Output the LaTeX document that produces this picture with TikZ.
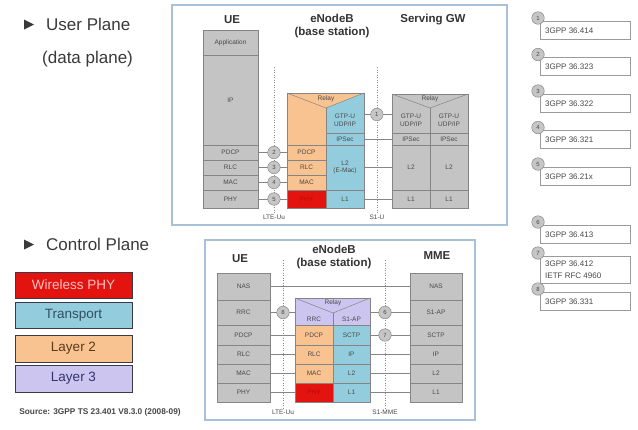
\documentclass[tikz,border=0pt]{standalone}
\usepackage{fontspec}
\setmainfont{Liberation Sans}
\definecolor{cred}{HTML}{E3140F}
\definecolor{cblue}{HTML}{93CDDD}
\definecolor{corange}{HTML}{F9C291}
\definecolor{clav}{HTML}{CBC5F0}
\definecolor{cgray}{HTML}{C4C4C4}
\definecolor{cline}{HTML}{858585}
\definecolor{ctext}{HTML}{484848}
\definecolor{chead}{HTML}{333333}
\definecolor{cframe}{HTML}{A8C0D8}
\definecolor{cnum}{HTML}{C6C6C6}
\definecolor{cnumline}{HTML}{8A8A8A}
\definecolor{cdash}{HTML}{8A8A8A}
\definecolor{clegline}{HTML}{3A3A48}
\definecolor{crefline}{HTML}{9A9A9A}
\definecolor{cphytext}{HTML}{B80808}
\definecolor{ctitle}{HTML}{3A3A3A}
\definecolor{ctrtext}{HTML}{2F4F62}
\definecolor{cl2text}{HTML}{5A3A1C}
\definecolor{cl3text}{HTML}{34346A}
\definecolor{cphyleg}{HTML}{F7C4C4}
\newcommand\dgCell{\fontsize{6.5}{7.5}\selectfont}
\newcommand\dgNum{\fontsize{6}{6}\selectfont}
\newcommand\dgSmall{\fontsize{6.5}{7}\selectfont}
\newcommand\dgHead{\fontsize{11.5}{13}\bfseries\selectfont}
\newcommand\dgLeg{\fontsize{13.5}{15}\selectfont}
\newcommand\dgRef{\fontsize{8}{11.5}\selectfont}
\newcommand\dgTitle{\fontsize{17}{19}\selectfont}
\newcommand\dgSrc{\fontsize{8.3}{9}\bfseries\selectfont}
\newcommand\cellbox[7]{\node[#2,minimum width={(#5-#3)*1pt},minimum height={(#6-#4)*1pt}] (#1) at ({(#3+#5)/2},{(#4+#6)/2}) {#7};}
\tikzset{
  cell/.style={draw=cline, line width=0.5pt, inner sep=0pt, outer sep=0pt, font=\dgCell, text=ctext, align=center},
  gcell/.style={cell, fill=cgray},
  ocell/.style={cell, fill=corange},
  bcell/.style={cell, fill=cblue},
  rcell/.style={cell, fill=cred, text=cphytext},
  lcell/.style={cell, fill=clav},
  tcell/.style={cell, draw=none},
  num/.style={circle, draw=cnumline, fill=cnum, line width=0.5pt, minimum size=12.5pt, inner sep=0pt, font=\dgNum, text=ctext},
  link/.style={draw=cline, line width=0.5pt},
  iface/.style={draw=cdash, line width=0.6pt, dash pattern=on 1pt off 1.5pt},
  ifacelabel/.style={font=\dgSmall, text=ctext, inner sep=1pt},
  head/.style={font=\dgHead, text=chead, align=center, inner sep=0pt},
  frame/.style={draw=cframe, line width=1.2pt, inner sep=0pt},
  legbox/.style={draw=clegline, line width=1pt, inner sep=0pt, font=\dgLeg},
  refbox/.style={draw=crefline, line width=0.6pt, fill=white, inner sep=0pt},
  reftext/.style={font=\dgRef, text=ctext, align=left, inner sep=0pt, anchor=west},
  title/.style={font=\dgTitle, text=ctitle, inner sep=0pt, anchor=west}
}
\begin{document}
\begin{tikzpicture}[x=1pt,y=-1pt]
\useasboundingbox[fill=white] (0,0) rectangle (638,429);

% ---------------- titles ----------------
\fill[ctitle] (24,19.5) -- (34,24.5) -- (24,29.5) -- cycle;
\node[title] (tup) at (46,24) {User Plane};
\node[title] (tdp) at (42,59) {(data plane)};
\fill[ctitle] (24,239.5) -- (34,244.5) -- (24,249.5) -- cycle;
\node[title] (tcp) at (46,244) {Control Plane};

% ---------------- frames ----------------
\cellbox{upframe}{frame}{172}{5}{507}{225}{}
\cellbox{cpframe}{frame}{205}{240}{475}{420}{}

% ---------------- user plane ----------------
\node[head] (hUE) at (232,20) {UE};
\node[head] (hENB) at (332,26) {eNodeB\\(base station)};
\node[head] (hSGW) at (433,20) {Serving GW};

\coordinate (uuTop) at (274,67);
\coordinate (s1Top) at (377,67);
\node[ifacelabel] (lUu) at (274,217) {LTE-Uu};
\node[ifacelabel] (lS1U) at (377,217) {S1-U};
\draw[iface] (uuTop) -- (lUu.north);
\draw[iface] (s1Top) -- (lS1U.north);

% UE
\cellbox{uApp}{gcell}{203}{30}{258}{55}{Application}
\cellbox{uIP}{gcell}{203}{55}{258}{145}{IP}
\cellbox{uPDCP}{gcell}{203}{145}{258}{160}{PDCP}
\cellbox{uRLC}{gcell}{203}{160}{258}{175}{RLC}
\cellbox{uMAC}{gcell}{203}{175}{258}{190}{MAC}
\cellbox{uPHY}{gcell}{203}{190}{258}{208}{PHY}

% eNodeB
\cellbox{eBox}{ocell}{287}{93}{364}{208}{}
\fill[cblue] (326,108) -- (eBox.north east) -- (eBox.south east) -- (326,208) -- cycle;
\cellbox{eGTP}{tcell}{326}{108}{364}{133}{GTP-U\\UDP/IP}
\cellbox{eIPS}{bcell}{326}{133}{364}{145}{IPSec}
\cellbox{eL2}{bcell}{326}{145}{364}{190}{L2\\(E-Mac)}
\cellbox{eL1}{bcell}{326}{190}{364}{208}{L1}
\cellbox{ePDCP}{ocell}{287}{145}{326}{160}{PDCP}
\cellbox{eRLC}{ocell}{287}{160}{326}{175}{RLC}
\cellbox{eMAC}{ocell}{287}{175}{326}{190}{MAC}
\cellbox{ePHY}{rcell}{287}{190}{326}{208}{PHY}
\node[tcell] (eRelay) at (326,99) {Relay};
\draw[link] (eBox.north west) -- (326,108) -- (eBox.north east);
\draw[link] (326,108) -- (326,145);
\draw[link] (eBox.north west) rectangle (eBox.south east);

% Serving GW
\cellbox{sBox}{gcell}{392}{94}{468}{208}{}
\cellbox{sG1}{tcell}{392}{108}{430}{133}{GTP-U\\UDP/IP}
\cellbox{sG2}{tcell}{430}{108}{468}{133}{GTP-U\\UDP/IP}
\cellbox{sI1}{gcell}{392}{133}{430}{145}{IPSec}
\cellbox{sI2}{gcell}{430}{133}{468}{145}{IPSec}
\cellbox{sL2a}{gcell}{392}{145}{430}{190}{L2}
\cellbox{sL2b}{gcell}{430}{145}{468}{190}{L2}
\cellbox{sL1a}{gcell}{392}{190}{430}{208}{L1}
\cellbox{sL1b}{gcell}{430}{190}{468}{208}{L1}
\node[tcell] (sRelay) at (430,99) {Relay};
\draw[link] (sBox.north west) -- (430,108) -- (sBox.north east);
\draw[link] (430,108) -- (430,133);

% user plane connectors
\draw[link] (uPDCP.east) -- node[num,pos=.55]{2} (uPDCP.east -| ePDCP.west);
\draw[link] (uRLC.east) -- node[num,pos=.55]{3} (uRLC.east -| eRLC.west);
\draw[link] (uMAC.east) -- node[num,pos=.55]{4} (uMAC.east -| eMAC.west);
\draw[link] (uPHY.east) -- node[num,pos=.55]{5} (uPHY.east -| ePHY.west);
\draw[link] ([yshift=6pt]eGTP.east) -- node[num,pos=.46]{1} ([yshift=6pt]sG1.west);
\draw[link] (eIPS.east) -- (eIPS.east -| sI1.west);
\draw[link] (eL2.east) -- (eL2.east -| sL2a.west);
\draw[link] (eL1.east) -- (eL1.east -| sL1a.west);

% ---------------- control plane ----------------
\node[head] (cUE) at (240,259) {UE};
\node[head] (cENB) at (334,257) {eNodeB\\(base station)};
\node[head] (cMME) at (437,256) {MME};

\coordinate (cuuTop) at (283,260);
\coordinate (cs1Top) at (385,260);
\node[ifacelabel] (lcUu) at (283,412) {LTE-Uu};
\node[ifacelabel] (lS1M) at (385,412) {S1-MME};
\draw[iface] (cuuTop) -- (lcUu.north);
\draw[iface] (cs1Top) -- (lS1M.north);

% UE
\cellbox{cNAS}{gcell}{217}{273}{270}{300}{NAS}
\cellbox{cRRC}{gcell}{217}{300}{270}{325}{RRC}
\cellbox{cPDCP}{gcell}{217}{325}{270}{345}{PDCP}
\cellbox{cRLC}{gcell}{217}{345}{270}{364}{RLC}
\cellbox{cMAC}{gcell}{217}{364}{270}{383}{MAC}
\cellbox{cPHY}{gcell}{217}{383}{270}{402}{PHY}

% eNodeB
\cellbox{eRel}{lcell}{295}{298}{370}{325}{}
\node[tcell] (eRelayC) at (333,303) {Relay};
\node[tcell] (eRRCt) at (314,319) {RRC};
\node[tcell] (eS1t) at (351.5,319) {S1-AP};
\draw[link] (eRel.north west) -- (333,313) -- (eRel.north east);
\draw[link] (333,313) -- (333,325);
\cellbox{ePDCPc}{ocell}{295}{325}{333}{345}{PDCP}
\cellbox{eRLCc}{ocell}{295}{345}{333}{364}{RLC}
\cellbox{eMACc}{ocell}{295}{364}{333}{383}{MAC}
\cellbox{ePHYc}{rcell}{295}{383}{333}{402}{PHY}
\cellbox{eSCTP}{bcell}{333}{325}{370}{345}{SCTP}
\cellbox{eIPc}{bcell}{333}{345}{370}{364}{IP}
\cellbox{eL2c}{bcell}{333}{364}{370}{383}{L2}
\cellbox{eL1c}{bcell}{333}{383}{370}{402}{L1}

% MME
\cellbox{mNAS}{gcell}{410}{273}{462}{300}{NAS}
\cellbox{mS1}{gcell}{410}{300}{462}{325}{S1-AP}
\cellbox{mSCTP}{gcell}{410}{325}{462}{345}{SCTP}
\cellbox{mIP}{gcell}{410}{345}{462}{364}{IP}
\cellbox{mL2}{gcell}{410}{364}{462}{383}{L2}
\cellbox{mL1}{gcell}{410}{383}{462}{402}{L1}

% control plane connectors
\draw[link] (cNAS.east) -- (cNAS.east -| mNAS.west);
\draw[link] (cRRC.east) -- node[num,pos=.52]{8} (cRRC.east -| eRel.west);
\draw[link] (cPDCP.east) -- (cPDCP.east -| ePDCPc.west);
\draw[link] (cRLC.east) -- (cRLC.east -| eRLCc.west);
\draw[link] (cMAC.east) -- (cMAC.east -| eMACc.west);
\draw[link] (cPHY.east) -- (cPHY.east -| ePHYc.west);
\draw[link] (mS1.west -| eRel.east) -- node[num,pos=.375]{6} (mS1.west);
\draw[link] (eSCTP.east) -- node[num,pos=.375]{7} (eSCTP.east -| mSCTP.west);
\draw[link] (eIPc.east) -- (eIPc.east -| mIP.west);
\draw[link] (eL2c.east) -- (eL2c.east -| mL2.west);
\draw[link] (eL1c.east) -- (eL1c.east -| mL1.west);

% ---------------- colour legend ----------------
\cellbox{legPHY}{legbox,fill=cred,text=cphyleg}{15}{272}{132}{298}{Wireless PHY}
\cellbox{legTr}{legbox,fill=cblue,text=ctrtext}{15}{302}{132}{328}{Transport}
\cellbox{legL2}{legbox,fill=corange,text=cl2text}{15}{335}{132}{362}{Layer 2}
\cellbox{legL3}{legbox,fill=clav,text=cl3text}{15}{365}{132}{392}{Layer 3}
\node[font=\dgSrc, text=ctext] (src) at (100,412) {Source: 3GPP TS 23.401 V8.3.0 (2008-09)};

% ---------------- reference list ----------------
\cellbox{r1}{refbox}{540}{21}{630}{39}{}
\cellbox{r2}{refbox}{540}{57.5}{630}{75.5}{}
\cellbox{r3}{refbox}{540}{94}{630}{112}{}
\cellbox{r4}{refbox}{540}{130.5}{630}{148.5}{}
\cellbox{r5}{refbox}{540}{167}{630}{185}{}
\cellbox{r6}{refbox}{540}{225}{630}{243}{}
\cellbox{r7}{refbox}{540}{256}{630}{283}{}
\cellbox{r8}{refbox}{540}{292}{630}{310}{}
\node[reftext] (t1) at (545,30.5) {3GPP 36.414};
\node[reftext] (t2) at (545,67) {3GPP 36.323};
\node[reftext] (t3) at (545,103.5) {3GPP 36.322};
\node[reftext] (t4) at (545,140) {3GPP 36.321};
\node[reftext] (t5) at (545,176.5) {3GPP 36.21x};
\node[reftext] (t6) at (545,234.5) {3GPP 36.413};
\node[reftext] (t7) at (545,269.5) {3GPP 36.412\\IETF RFC 4960};
\node[reftext] (t8) at (545,301.5) {3GPP 36.331};
\node[num] (n1) at (538,18) {1};
\node[num] (n2) at (538,54.5) {2};
\node[num] (n3) at (538,91) {3};
\node[num] (n4) at (538,127.5) {4};
\node[num] (n5) at (538,164) {5};
\node[num] (n6) at (538,222) {6};
\node[num] (n7) at (538,253) {7};
\node[num] (n8) at (538,289) {8};
\end{tikzpicture}
\end{document}
